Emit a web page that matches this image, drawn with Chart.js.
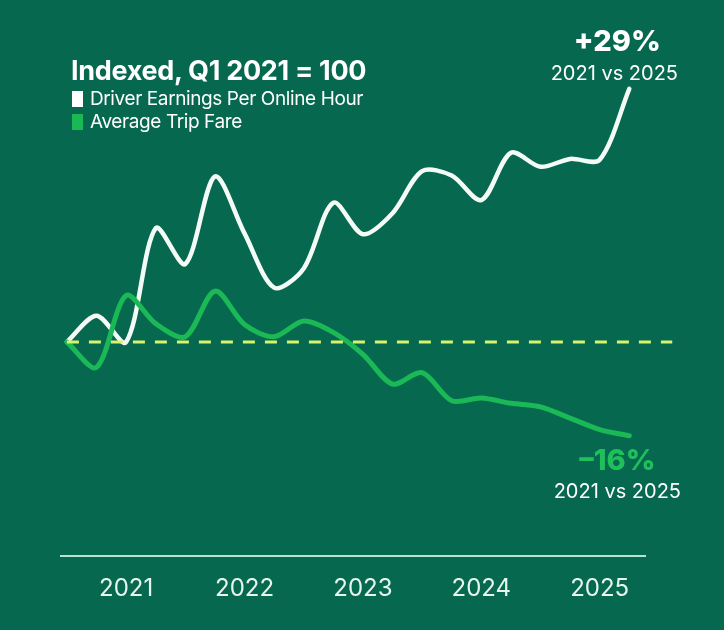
<!DOCTYPE html>
<html>
<head>
<meta charset="utf-8">
<script src="https://cdn.jsdelivr.net/npm/chart.js@4.4.1/dist/chart.umd.min.js"></script>
<style>
  body { margin: 0; background: #06684f; }
  #wrap { position: relative; width: 724px; height: 630px; background: #06684f; font-family: Inter, "Noto Sans", sans-serif; color: #fff; }
  canvas { position: absolute; left: 0; top: 0; }
  .title { position: absolute; left: 71px; top: 57px; font-size: 27px; line-height: 27px; font-weight: 700; letter-spacing: -0.3px; white-space: nowrap; }
  .item { position: absolute; left: 72px; font-size: 19px; line-height: 19px; white-space: nowrap; letter-spacing: -0.4px; }
  .item span { display: inline-block; width: 11px; height: 16px; margin-right: 7px; vertical-align: -2px; }
</style>
</head>
<body>
<div id="wrap">
  <canvas id="grafico" width="724" height="630"></canvas>
  <div class="title">Indexed, Q1 2021 = 100</div>
  <div class="item" style="top:89px"><span style="background:#ffffff"></span>Driver Earnings Per Online Hour</div>
  <div class="item" style="top:112px"><span style="background:#1bb955"></span>Average Trip Fare</div>
</div>
<script>
// Dados (índice, Q1 2021 = 100)
const quarters = [
  "Q1 2021", "Q2 2021", "Q3 2021", "Q4 2021",
  "Q1 2022", "Q2 2022", "Q3 2022", "Q4 2022",
  "Q1 2023", "Q2 2023", "Q3 2023", "Q4 2023",
  "Q1 2024", "Q2 2024", "Q3 2024", "Q4 2024",
  "Q1 2025", "Q2 2025", "Q3 2025", "Q4 2025",
];
const years = ["2021", "2022", "2023", "2024", "2025"];
const driverEarnings = [
  100.0, 103.0, 100.0, 113.0,
  108.9, 118.9, 112.4, 106.2,
  108.4, 115.9, 112.3, 114.7,
  119.5, 119.0, 116.2, 121.6,
  120.0, 120.9, 120.8, 128.9,
];
const tripFare = [
  100.0, 97.1, 105.3, 102.1,
  100.6, 105.8, 102.0, 100.6,
  102.4, 101.1, 98.6, 95.2,
  96.5, 93.3, 93.6, 93.0,
  92.6, 91.3, 90.0, 89.3,
];
const baseline = 100;
const baselineReach = 1.45; // quanto a linha tracejada passa do último trimestre

const toPoints = (arr) => arr.map((v, i) => ({ x: i, y: v }));

// Rótulos de variação no fim das linhas
const rotulosFinais = {
  id: "rotulosFinais",
  afterDatasetsDraw(chart) {
    const ctx = chart.ctx;
    const fimBranco = chart.getDatasetMeta(0).data[driverEarnings.length - 1];
    const fimVerde = chart.getDatasetMeta(1).data[tripFare.length - 1];
    ctx.save();
    ctx.textAlign = "center";
    ctx.textBaseline = "alphabetic";

    ctx.fillStyle = "#ffffff";
    ctx.font = "800 29px Inter";
    ctx.fillText("+29%", fimBranco.x - 12, fimBranco.y - 38);
    ctx.font = "400 20px Inter";
    ctx.fillText("2021 vs 2025", fimBranco.x - 15, fimBranco.y - 9);

    ctx.fillStyle = "#1fbf5b";
    ctx.font = "800 29px Inter";
    ctx.fillText("–16%", fimVerde.x - 12, fimVerde.y + 34);
    ctx.fillStyle = "#ffffff";
    ctx.font = "400 20px Inter";
    ctx.fillText("2021 vs 2025", fimVerde.x - 12, fimVerde.y + 62);
    ctx.restore();
  },
};

new Chart(document.getElementById("grafico"), {
  type: "line",
  data: {
    datasets: [
      {
        label: "Driver Earnings Per Online Hour",
        data: toPoints(driverEarnings),
        borderColor: "#f4fbf7",
        borderWidth: 4.5,
        borderCapStyle: "round",
        tension: 0.3,
        pointRadius: 0,
        order: 2,
      },
      {
        label: "Average Trip Fare",
        data: toPoints(tripFare),
        borderColor: "#1bb955",
        borderWidth: 5,
        borderCapStyle: "round",
        tension: 0.3,
        pointRadius: 0,
        order: 1,
      },
      {
        label: "Baseline",
        data: [
          { x: 0, y: baseline },
          { x: quarters.length - 1 + baselineReach, y: baseline },
        ],
        borderColor: "#d6f26f",
        borderWidth: 3,
        borderDash: [12, 10],
        pointRadius: 0,
        clip: false,
        order: 0,
      },
    ],
  },
  options: {
    responsive: false,
    animation: false,
    layout: { padding: { left: 61, right: 79, top: 10, bottom: 0 } },
    plugins: { legend: { display: false }, tooltip: { enabled: false } },
    scales: {
      x: {
        type: "linear",
        min: -0.2,
        max: 19.53,
        grid: { display: false, drawTicks: false },
        border: { display: true, color: "#b7e4d0", width: 2 },
        afterBuildTicks: (s) => {
          s.ticks = years.map((y) => ({ value: quarters.indexOf("Q3 " + y) }));
        },
        afterFit: (s) => {
          s.height = 74;
        },
        ticks: {
          autoSkip: false,
          maxRotation: 0,
          padding: 18,
          color: "#e6f6ee",
          font: { family: "Inter", size: 24 },
          callback: (v) => quarters[v].slice(3),
        },
      },
      y: { display: false, min: 75.57, max: 137.9 },
    },
  },
  plugins: [rotulosFinais],
});
</script>
</body>
</html>
